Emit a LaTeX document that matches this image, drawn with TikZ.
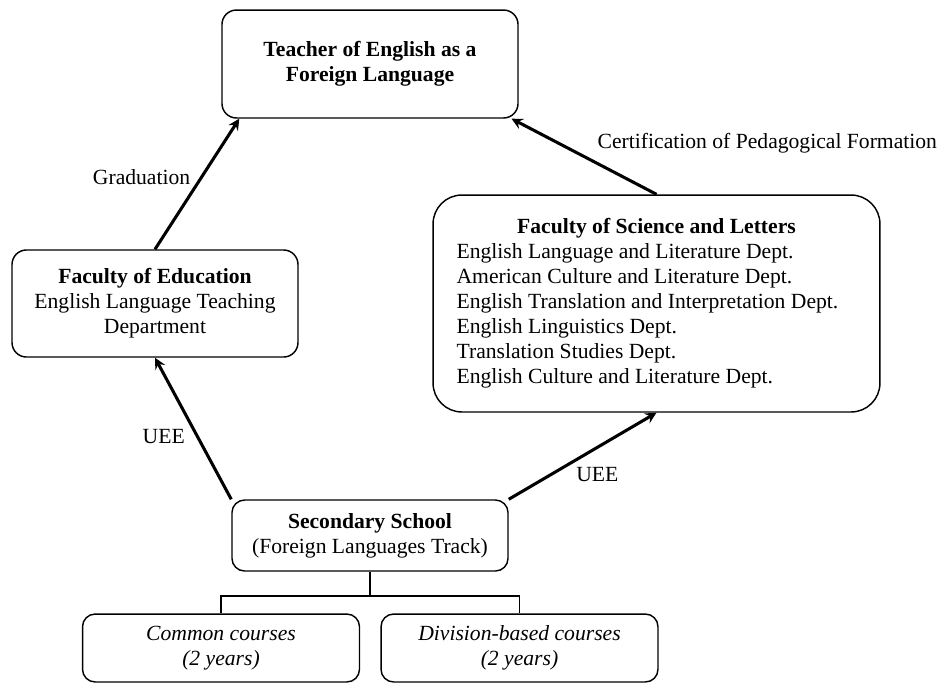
\documentclass[tikz,border=0pt]{standalone}
\usepackage{fontspec}
\setmainfont{Liberation Serif}

\begin{document}
\begin{tikzpicture}[x=0.555pt,y=-0.555pt,
	box/.style={draw,thick,rounded corners=8pt,align=center,inner sep=0pt,font=\fontsize{12}{13.9}\selectfont},
	arr/.style={-stealth,line width=1.7pt},
	lbl/.style={font=\fontsize{12}{13.9}\selectfont}]
	\useasboundingbox (0,0) rectangle (941,687);
	
	\node[box,minimum width=164.3pt,minimum height=59.9pt] (teach) at (370,64) {\textbf{Teacher of English as a}\\\textbf{Foreign Language}};
	\node[box,minimum width=158.7pt,minimum height=59.4pt] (edu) at (155,303.5) {\textbf{Faculty of Education}\\English Language Teaching\\Department};
	\node[box,rounded corners=16pt,minimum width=248pt,minimum height=120.4pt] (sci) at (656.5,303.5) {\begin{tabular}{@{}l@{\hspace{10pt}}}
		\multicolumn{1}{@{}c@{}}{\textbf{Faculty of Science and Letters}}\\
		English Language and Literature Dept.\\
		American Culture and Literature Dept.\\
		English Translation and Interpretation Dept.\\
		English Linguistics Dept.\\
		Translation Studies Dept.\\
		English Culture and Literature Dept.
	\end{tabular}};
	\node[box,rounded corners=7pt,minimum width=153.2pt,minimum height=39.4pt] (sec) at (370,535.5) {\textbf{Secondary School}\\(Foreign Languages Track)};
	\node[box,rounded corners=7pt,minimum width=153.7pt,minimum height=37.7pt] (com) at (221,648) {\textit{Common courses}\\\textit{(2 years)}};
	\node[box,rounded corners=7pt,minimum width=153.7pt,minimum height=37.7pt] (div) at (519.5,648) {\textit{Division-based courses}\\\textit{(2 years)}};
	
	% tracks
	\draw[arr] (edu.north) -- ([xshift=10pt]teach.south west) node[lbl,pos=0.55,left=2pt]{Graduation};
	\draw[arr] (sci.north) -- ([xshift=-4pt]teach.south east) node[lbl,pos=0.675,anchor=west,xshift=17.5pt]{Certification of Pedagogical Formation};
	\draw[arr] (sec.north west) -- (edu.south) node[lbl,pos=0.44,left=3pt]{UEE};
	\draw[arr] (sec.north east) -- (sci.south) node[lbl,pos=0.45,xshift=12.3pt,yshift=-8.1pt]{UEE};
	
	\coordinate (fork) at (370,596);
	\draw[thick] (sec.south) -- (fork) -| (com.north);
	\draw[thick] (fork) -| (div.north);
\end{tikzpicture}
\end{document}
